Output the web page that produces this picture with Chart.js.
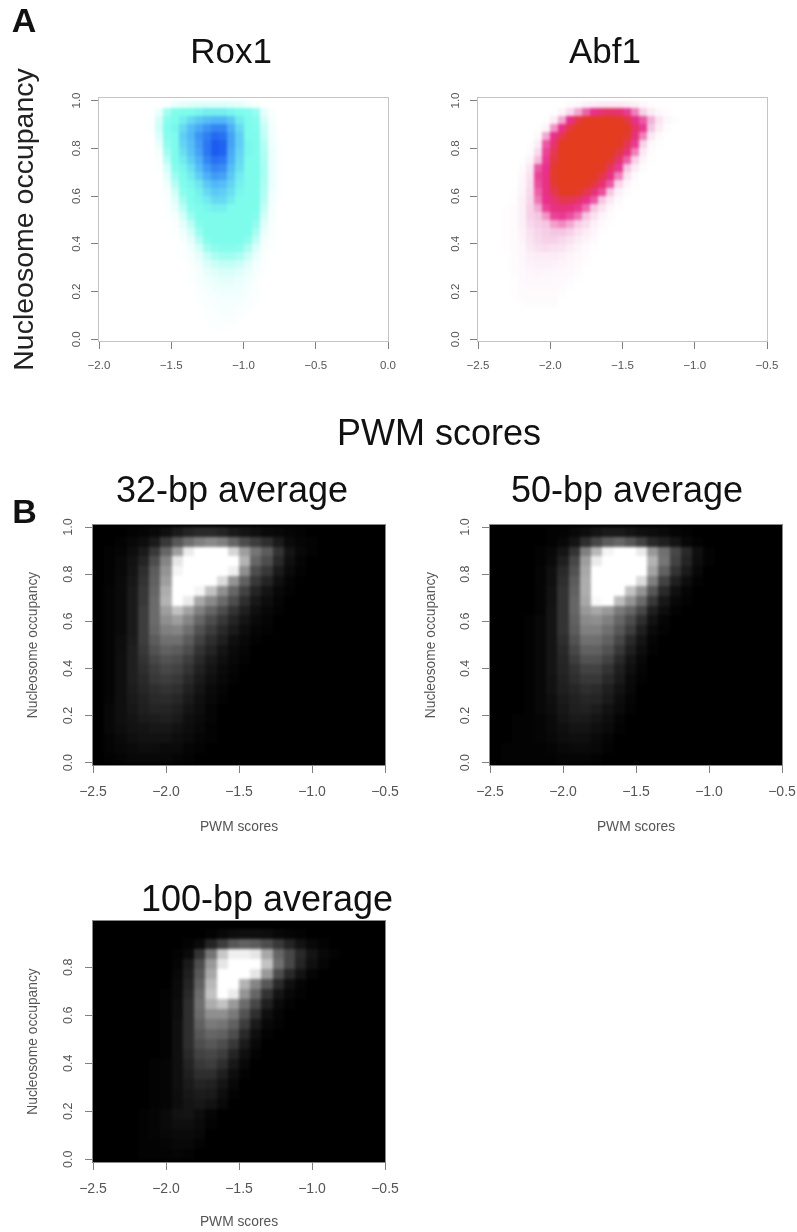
<!DOCTYPE html>
<html>
<head>
<meta charset="utf-8">
<title>Nucleosome occupancy vs PWM scores</title>
<script src="https://cdn.jsdelivr.net/npm/chart.js@4/dist/chart.umd.min.js"></script>
<style>
    html, body { margin: 0; background: #fff; }
    #page { position: relative; width: 797px; height: 1232px; overflow: hidden; filter: blur(0.5px); font-family: "Liberation Sans", sans-serif; }
    #page canvas { position: absolute; }
    .label { position: absolute; line-height: 1; white-space: nowrap; color: #111; transform: translateX(-50%); }
</style>
</head>
<body>
<div id="page"></div>
<script>
// Tick positions
const xTicksRox1 = [-2, -1.5, -1, -0.5, 0];
const xTicksWide = [-2.5, -2, -1.5, -1, -0.5];
const yTicksFull = [0, 0.2, 0.4, 0.6, 0.8, 1];
const yTicksShort = [0, 0.2, 0.4, 0.6, 0.8];

// Density, 0-100, rows from occupancy 1.0 downwards.
// Rows may stop early: what is missing on the right is empty.
const rox1FirstCol = 6;
const rox1Rows = [
    [0,0,2,8,10,12,14,14,14,14,12,10,6,3],
    [0,8,35,48,50,50,52,55,55,55,52,50,48,40,10,2],
    [1,16,45,50,55,62,68,72,74,74,68,56,50,46,16,4],
    [1,18,48,52,62,72,78,84,88,88,76,62,50,48,22,5],
    [0,14,46,50,66,74,84,90,96,94,80,66,50,50,24,6],
    [0,8,42,50,64,72,82,92,100,98,80,66,52,50,28,6,1],
    [0,4,36,50,60,70,80,92,100,98,78,64,52,50,30,8,1],
    [0,2,26,50,56,66,76,88,94,92,76,62,50,50,32,8,1],
    [0,1,16,46,52,60,72,82,88,86,72,60,50,50,34,8,1],
    [0,0,10,38,50,56,66,76,82,80,68,56,50,50,34,8,1],
    [0,0,6,28,48,52,58,68,74,72,64,54,50,50,32,8,1],
    [0,0,3,18,44,50,54,62,68,66,60,52,50,50,30,6,1],
    [0,0,2,12,36,50,52,56,62,62,56,50,50,50,28,5,1],
    [0,0,1,8,26,46,50,52,54,54,50,50,50,50,24,4],
    [0,0,1,4,16,38,50,50,50,50,50,50,50,48,18,3],
    [0,0,0,2,10,26,46,50,50,50,50,50,50,42,12,2],
    [0,0,0,1,6,16,40,50,50,50,50,50,50,34,8,2],
    [0,0,0,0,3,10,28,46,50,50,50,50,44,24,5,1],
    [0,0,0,0,1,6,16,36,44,46,46,44,32,14,3,1],
    [0,0,0,0,1,4,10,22,32,36,36,32,20,8,2],
    [0,0,0,0,0,2,6,14,20,24,24,20,12,5,1],
    [0,0,0,0,0,1,4,9,12,15,15,12,8,3,1],
    [0,0,0,0,0,1,3,6,8,10,10,8,5,2],
    [0,0,0,0,0,0,2,4,6,7,7,6,4,2],
    [0,0,0,0,0,0,1,3,4,5,5,5,3,1],
    [0,0,0,0,0,0,1,2,3,4,4,3,2,1],
    [0,0,0,0,0,0,0,1,2,3,3,2,1],
    [0,0,0,0,0,0,0,1,1,2,2,1],
    [0,0,0,0,0,0,0,0,1,1,1]
];

const abf1FirstCol = 3;
const abf1Rows = [
    [0,0,0,0,0,0,0,0,2,4,8,10,12,12,12,10,8,4,1],
    [0,0,0,0,0,0,1,6,20,36,50,60,66,68,66,58,44,24,10,4,2],
    [0,0,0,0,0,1,10,36,60,75,85,90,90,90,85,76,60,52,34,14,5,2],
    [0,0,0,0,1,6,40,60,76,88,96,98,98,96,92,84,68,58,30,10,2],
    [0,0,0,0,3,36,60,74,90,98,100,100,100,98,92,80,64,44,12,3],
    [0,0,0,1,10,52,66,84,96,100,100,100,98,94,84,72,58,24,4,1],
    [0,0,0,2,20,56,72,88,98,100,100,98,96,88,76,64,44,12,2],
    [0,0,1,6,32,58,76,90,98,100,100,96,90,80,66,50,24,6,1],
    [0,0,2,12,52,60,80,90,96,98,96,90,82,70,58,30,10,2],
    [0,0,4,16,56,62,80,90,94,94,90,84,74,62,44,14,3],
    [0,0,5,18,54,62,78,88,90,88,84,76,66,52,22,6,1],
    [0,1,6,20,50,62,72,82,84,80,74,64,54,30,8,2],
    [0,1,8,22,46,60,66,72,72,68,60,52,30,12,3],
    [1,2,8,24,36,56,62,64,62,58,48,30,14,5,1],
    [1,2,8,24,30,40,56,58,54,46,30,16,6,2],
    [1,2,8,20,26,30,38,42,36,26,18,8,3,1],
    [1,2,7,16,22,26,30,30,24,16,10,5,1],
    [1,2,6,14,20,24,24,20,16,10,6,3],
    [1,2,5,12,16,18,16,14,10,6,3,1],
    [0,2,5,8,10,10,10,8,6,4,2],
    [0,2,4,7,8,8,7,6,5,3,1],
    [0,2,3,5,6,5,5,4,4,2],
    [0,1,3,4,4,4,3,3,2,1],
    [0,1,2,3,3,3,3,2,1],
    [0,1,2,2,2,2,2,1],
    [0,0,1,2,2,2,2]
];

const avg32Rows = [
    [0,0,0,1,2,3,6,10,14,16,16,14,10,8,6,4,3,2,1],
    [0,0,1,3,5,10,22,34,44,50,54,50,40,30,24,18,10,4,2,1],
    [0,1,2,5,10,22,40,62,92,100,100,100,84,62,46,36,20,8,3,1],
    [0,1,3,7,14,30,52,90,100,100,100,100,100,70,40,30,16,6,2],
    [0,1,3,8,18,36,58,96,100,100,100,100,94,56,30,22,10,4,1],
    [0,1,4,9,20,38,62,100,100,100,100,86,58,38,22,14,6,2],
    [0,2,4,10,22,40,68,100,100,96,76,56,40,26,14,8,3,1],
    [0,2,4,10,22,42,70,100,92,66,54,42,30,18,9,5,2],
    [0,2,4,10,24,42,62,76,64,50,40,30,20,12,6,3,1],
    [0,2,4,10,24,42,56,62,52,40,30,22,14,8,4,2],
    [0,2,4,10,24,40,50,52,44,32,24,16,10,5,2,1],
    [0,2,5,11,24,36,44,44,36,26,18,12,6,3,1],
    [0,2,5,12,22,32,38,36,30,20,14,8,4,2],
    [0,2,6,12,20,28,32,30,24,16,10,6,3,1],
    [0,2,6,12,18,24,28,26,20,13,8,4,2],
    [0,2,6,12,16,22,24,22,16,10,6,3,1],
    [0,2,6,11,15,18,20,18,13,8,4,2],
    [0,2,6,10,13,16,17,15,10,6,3,1],
    [0,3,6,9,12,14,14,12,8,5,2],
    [0,3,6,8,10,11,12,10,6,4,2],
    [0,3,5,7,8,9,9,7,5,3,1],
    [0,2,4,6,7,7,7,5,4,2,1],
    [0,2,3,4,5,5,4,4,2,1],
    [0,1,2,3,3,3,3,2,1]
];

const avg50Rows = [
    [0,0,0,0,0,1,1,3,5,8,10,10,8,6,5,4,2,1],
    [0,0,0,0,0,1,3,8,18,28,36,40,34,26,16,12,8,3,1],
    [0,0,0,0,1,3,8,20,50,72,96,100,100,92,60,44,28,16,6,1],
    [0,0,0,0,1,4,12,28,62,92,100,100,100,100,70,46,26,14,5,1],
    [0,0,0,0,2,6,16,32,66,100,100,100,100,100,64,38,20,10,3],
    [0,0,0,0,2,6,18,36,68,100,100,100,100,86,50,26,12,5,1],
    [0,0,0,0,2,7,20,38,68,100,100,100,76,58,34,16,6,2],
    [0,0,0,0,2,7,20,40,66,98,100,74,58,42,22,9,3,1],
    [0,0,0,0,2,8,20,40,60,66,60,48,40,28,12,5,1],
    [0,0,0,1,3,8,20,38,54,56,50,40,30,18,7,2],
    [0,0,0,1,3,8,20,36,50,50,44,34,24,12,4,1],
    [0,0,0,1,3,8,18,32,44,44,38,28,16,8,2],
    [0,0,0,1,3,8,16,28,38,38,32,22,12,5,1],
    [0,0,0,1,3,8,15,24,32,32,26,16,8,3],
    [0,0,0,1,3,8,14,20,26,26,20,12,6,2],
    [0,0,0,1,3,7,13,18,22,22,16,10,4,1],
    [0,0,0,1,3,7,12,15,18,17,12,7,3],
    [0,0,0,1,3,6,10,13,15,14,10,5,2],
    [0,0,0,1,3,5,9,12,13,11,7,4,1],
    [0,0,1,1,2,4,8,10,10,8,5,2],
    [0,0,1,1,2,4,6,8,8,6,4,1],
    [0,0,1,1,2,3,5,6,6,4,2],
    [0,1,1,1,1,2,3,4,4,3,1],
    [0,1,1,1,1,1,2,2,2,1]
];

const avg100Rows = [
    [],
    [0,0,0,0,0,0,0,0,0,0,1,3,5,6,6,5,3,2,1],
    [0,0,0,0,0,0,0,0,1,4,14,24,34,38,36,30,22,14,7,3,1],
    [0,0,0,0,0,0,0,1,4,20,46,78,94,94,90,66,40,28,16,8,3,1],
    [0,0,0,0,0,0,0,2,10,30,60,90,100,100,100,76,44,28,14,6,2],
    [0,0,0,0,0,0,0,3,12,34,66,100,100,100,90,60,30,16,7,2],
    [0,0,0,0,0,0,0,4,14,38,72,100,100,70,52,34,16,6,2],
    [0,0,0,0,0,0,1,4,16,42,76,100,92,58,40,20,8,3,1],
    [0,0,0,0,0,0,1,5,18,44,68,76,60,42,28,12,4,1],
    [0,0,0,0,0,0,1,5,18,42,56,56,48,32,18,6,2],
    [0,0,0,0,0,0,1,6,18,38,48,46,38,24,10,3,1],
    [0,0,0,0,0,0,1,6,18,34,40,38,30,16,6,1],
    [0,0,0,0,0,0,1,6,18,30,34,30,22,10,3],
    [0,0,0,0,0,0,1,6,16,26,28,24,14,6,1],
    [0,0,0,0,0,1,2,6,14,22,24,18,9,3],
    [0,0,0,0,0,1,2,6,12,18,18,12,5,1],
    [0,0,0,0,0,1,2,6,10,14,13,8,3],
    [0,0,0,0,0,1,2,5,9,11,10,5,1],
    [0,0,0,0,0,1,2,5,8,9,7,3],
    [0,0,0,0,1,2,4,7,8,5,2],
    [0,0,0,0,1,2,4,6,6,4,1],
    [0,0,0,0,1,2,3,4,4,3],
    [0,0,0,0,1,1,2,3,3,1],
    [0,0,0,0,1,1,1,2,1]
];

// Colour ramps: [density, r, g, b]
const rampRox1 = [[0,255,255,255],[50,125,252,236],[75,79,180,248],[100,28,92,240]];
const rampAbf1 = [[0,255,255,255],[30,245,198,226],[60,232,48,140],[82,227,60,34],[100,227,60,30]];
const rampGrey = [[0,0,0,0],[100,255,255,255]];

function rampColor(ramp, v) {
    let i = 1;
    while (i < ramp.length - 1 && v > ramp[i][0]) i++;
    const a = ramp[i - 1], b = ramp[i];
    const t = Math.min(1, (v - a[0]) / (b[0] - a[0]));
    const mix = k => Math.round(a[k] + (b[k] - a[k]) * t);
    return `rgb(${mix(1)},${mix(2)},${mix(3)})`;
}

// Turn rows into scatter points: x and y are the cell's upper left corner
function rowsToCells(rows, firstCol, xMin, xStep, yStep) {
    const cells = [];
    rows.forEach((row, r) => {
        row.forEach((v, c) => {
            if (v > 0) cells.push({ x: xMin + (firstCol + c) * xStep, y: 1 - r * yStep, v: v });
        });
    });
    return cells;
}

// Paints the density cells through the chart's scales, softened a little like the scanned figure
const heatCells = {
    id: 'heatCells',
    beforeDatasetsDraw(chart, args, opts) {
        const { ctx, chartArea: area, scales: { x, y } } = chart;
        const layer = document.createElement('canvas');
        layer.width = chart.width;
        layer.height = chart.height;
        const lctx = layer.getContext('2d');
        lctx.fillStyle = opts.background;
        lctx.fillRect(0, 0, layer.width, layer.height);
        chart.data.datasets[0].data.forEach(p => {
            const x0 = Math.round(x.getPixelForValue(p.x));
            const x1 = Math.round(x.getPixelForValue(p.x + opts.xStep));
            const y0 = Math.round(y.getPixelForValue(p.y));
            const y1 = Math.round(y.getPixelForValue(p.y - opts.yStep));
            lctx.fillStyle = rampColor(opts.ramp, p.v);
            lctx.fillRect(x0, y0, x1 - x0, y1 - y0);
        });
        ctx.save();
        ctx.beginPath();
        ctx.rect(area.left, area.top, area.width, area.height);
        ctx.clip();
        ctx.filter = 'blur(1.6px)';
        ctx.drawImage(layer, 0, 0);
        ctx.restore();
    },
    afterDatasetsDraw(chart, args, opts) {
        const { ctx, chartArea: area } = chart;
        ctx.save();
        ctx.strokeStyle = opts.boxColor;
        ctx.lineWidth = 1;
        ctx.strokeRect(area.left - 0.5, area.top - 0.5, area.width + 1, area.height + 1);
        ctx.restore();
    }
};

const page = document.getElementById('page');

function addPanel(p) {
    const canvas = document.createElement('canvas');
    canvas.width = p.width;
    canvas.height = p.height;
    canvas.style.left = p.left + 'px';
    canvas.style.top = p.top + 'px';
    page.appendChild(canvas);

    const xStep = (p.xTicks[p.xTicks.length - 1] - p.xTicks[0]) / p.cols;
    const yStep = 1 / p.rowCount;

    return new Chart(canvas.getContext('2d'), {
        type: 'scatter',
        data: {
            datasets: [{
                data: rowsToCells(p.rows, p.firstCol, p.xTicks[0], xStep, yStep),
                pointRadius: 0
            }]
        },
        plugins: [heatCells],
        options: {
            responsive: false,
            animation: false,
            layout: { padding: { top: p.padTop, right: 40, left: 0, bottom: 0 } },
            plugins: {
                legend: { display: false },
                tooltip: { enabled: false },
                heatCells: { ramp: p.ramp, background: p.background, boxColor: p.boxColor, xStep: xStep, yStep: yStep }
            },
            scales: {
                x: {
                    type: 'linear',
                    min: p.xTicks[0],
                    max: p.xTicks[p.xTicks.length - 1],
                    afterBuildTicks: s => { s.ticks = p.xTicks.map(v => ({ value: v })); },
                    afterFit: s => { s.height = p.marginBottom; },
                    border: { display: false },
                    grid: { drawOnChartArea: false, tickLength: 8, tickColor: '#808080' },
                    ticks: {
                        autoSkip: false,
                        maxRotation: 0,
                        padding: p.xTickPad,
                        color: '#555',
                        font: { family: 'Liberation Sans', size: p.tickSize },
                        callback: v => v.toFixed(1).replace('-', '\u2212')
                    },
                    title: {
                        display: !!p.xTitle,
                        text: p.xTitle,
                        color: '#555',
                        padding: { top: 0, bottom: p.xTitlePad },
                        font: { family: 'Liberation Sans', size: p.titleSize }
                    }
                },
                y: {
                    type: 'linear',
                    min: p.yMin,
                    max: p.yMax,
                    afterBuildTicks: s => { s.ticks = p.yTicks.map(v => ({ value: v })); },
                    afterFit: s => { s.width = p.marginLeft; },
                    border: { display: false },
                    grid: { drawOnChartArea: false, tickLength: 8, tickColor: '#808080' },
                    ticks: {
                        autoSkip: false,
                        minRotation: 90,
                        maxRotation: 90,
                        crossAlign: 'center',
                        padding: p.yTickPad,
                        color: '#555',
                        font: { family: 'Liberation Sans', size: p.yTickSize },
                        callback: v => v.toFixed(1)
                    },
                    title: {
                        display: !!p.yTitle,
                        text: p.yTitle,
                        color: p.yTitleColor,
                        padding: { top: p.yTitlePad, bottom: 0 },
                        font: { family: 'Liberation Sans', size: p.yTitleSize }
                    }
                }
            }
        }
    });
}

const smallTitle = 'Nucleosome occupancy';
const panelA = {
    cols: 36, rowCount: 30, xTickPad: 10, tickSize: 11.5, yTickSize: 11.5, yTickPad: 6, marginBottom: 40, boxColor: '#c4c4c4',
    background: '#fff', titleSize: 13.5, yMin: -0.007, yMax: 1.0105, yTicks: yTicksFull, top: 40, height: 341, padTop: 58
};
const panelB = {
    cols: 26, rowCount: 24, firstCol: 0, xTickPad: 11, tickSize: 14, yTickSize: 12.5, yTickPad: 8, boxColor: '#888', ramp: rampGrey,
    background: '#000', titleSize: 13.8, xTitle: 'PWM scores', xTitlePad: 2, yTitle: smallTitle,
    yTitleColor: '#555', yTitleSize: 13.8, padTop: 40
};

addPanel({ ...panelA, left: 0, width: 428, marginLeft: 99, xTicks: xTicksRox1, firstCol: rox1FirstCol, ramp: rampRox1,
    rows: rox1Rows, yTitle: smallTitle, yTitleColor: '#222', yTitleSize: 28.5, yTitlePad: 8 });
addPanel({ ...panelA, left: 400, width: 407, marginLeft: 78, xTicks: xTicksWide, firstCol: abf1FirstCol, ramp: rampAbf1,
    rows: abf1Rows });
addPanel({ ...panelB, left: 0, top: 485, width: 425, height: 352, marginLeft: 93, marginBottom: 72, xTicks: xTicksWide,
    yTicks: yTicksFull, yMin: -0.01, yMax: 1.0085, rows: avg32Rows, yTitlePad: 25 });
addPanel({ ...panelB, left: 400, top: 485, width: 422, height: 352, marginLeft: 90, marginBottom: 72, xTicks: xTicksWide,
    yTicks: yTicksFull, yMin: -0.01, yMax: 1.0085, rows: avg50Rows, yTitlePad: 23 });
addPanel({ ...panelB, left: 0, top: 881, width: 425, height: 351, marginLeft: 93, marginBottom: 70, xTicks: xTicksWide,
    yTicks: yTicksShort, yMin: -0.011, yMax: 0.993, rows: avg100Rows, yTitlePad: 25 });

// Panel titles and letters: [text, centre x, cap centre y, size, weight]
const labels = [
    ['A', 24, 20, 34, 'bold'],
    ['B', 24.5, 511, 34, 'bold'],
    ['Rox1', 231, 50, 35, 'normal'],
    ['Abf1', 605, 50, 35, 'normal'],
    ['PWM scores', 439, 433, 36, 'normal'],
    ['32-bp average', 232, 490, 36, 'normal'],
    ['50-bp average', 627, 490, 36, 'normal'],
    ['100-bp average', 267, 899, 36, 'normal']
];
labels.forEach(([text, x, y, size, weight]) => {
    const el = document.createElement('div');
    el.className = 'label';
    el.textContent = text;
    el.style.left = x + 'px';
    el.style.top = (y - 0.49 * size) + 'px';
    el.style.fontSize = size + 'px';
    el.style.fontWeight = weight;
    page.appendChild(el);
});
</script>
</body>
</html>
